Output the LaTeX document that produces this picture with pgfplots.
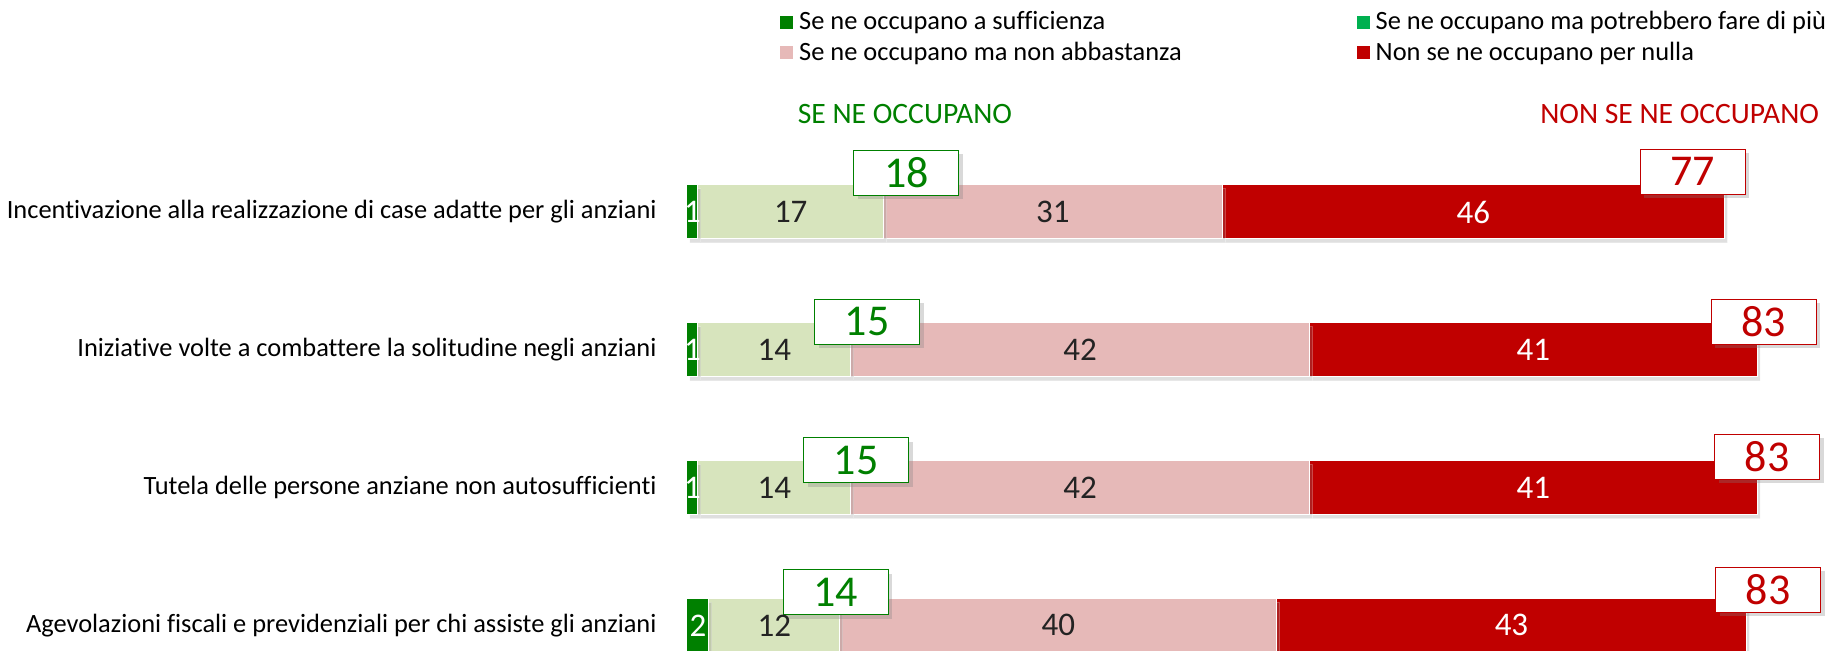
\documentclass[border=0pt]{standalone}
\usepackage{pgfplots}
\pgfplotsset{compat=1.18}
\usepackage{pgfplotstable}
\usepackage{fontspec}
\setmainfont{Carlito}[Ligatures=CommonOff]
\usetikzlibrary{shadows}
\definecolor{dgreen}{RGB}{0,128,0}
\definecolor{mgreen}{RGB}{0,176,80}
\definecolor{lgreen}{RGB}{215,228,189}
\definecolor{lpink}{RGB}{230,185,184}
\definecolor{dred}{RGB}{192,0,0}
\definecolor{txt}{RGB}{35,35,35}

% segment values (y = bar position)
\pgfplotstableread{
y v
0 1
-1 1
-2 1
-3 2
}\tA
\pgfplotstableread{
y v
0 17
-1 14
-2 14
-3 12
}\tB
\pgfplotstableread{
y v
0 31
-1 42
-2 42
-3 40
}\tC
\pgfplotstableread{
y v
0 46
-1 41
-2 41
-3 43
}\tD
% label positions (segment midpoints) and texts
\pgfplotstableread{
y m lab
0 0.5 1
-1 0.5 1
-2 0.5 1
-3 1 2
}\lA
\pgfplotstableread{
y m lab
0 9.5 17
-1 8 14
-2 8 14
-3 8 12
}\lB
\pgfplotstableread{
y m lab
0 33.5 31
-1 36 42
-2 36 42
-3 34 40
}\lC
\pgfplotstableread{
y m lab
0 72 46
-1 77.5 41
-2 77.5 41
-3 75.5 43
}\lD

\tikzset{
  tot/.style={draw=#1, fill=white, text=#1, line width=0.5pt,
    minimum width=52.5pt, minimum height=22.5pt, inner sep=0pt,
    font=\fontsize{22}{24}\selectfont,
    drop shadow={shadow xshift=2pt, shadow yshift=-2pt, opacity=0.3}},
  barshadow/.style={drop shadow={shadow xshift=1.5pt, shadow yshift=-2pt, opacity=0.25}}
}
\pgfplotsset{
  common/.style={x=5.46pt, y=68.9pt, xmin=0, xmax=100, ymin=-3.5, ymax=0.5, clip=false},
  seglab/.style={only marks, mark=none, point meta=explicit symbolic,
    nodes near coords={\pgfplotspointmeta},
    nodes near coords align={anchor=center},
    every node near coord/.append style={text=#1, font=\fontsize{16.5}{18}\selectfont}}
}

\begin{document}
\begin{tikzpicture}
\begin{axis}[
  common,
  xbar stacked, bar width=27pt,
  axis line style={draw=none}, major tick length=0pt,
  xtick=\empty,
  ytick={0,-1,-2,-3},
  yticklabels={Incentivazione alla realizzazione di case adatte per gli anziani,
    Iniziative volte a combattere la solitudine negli anziani,
    Tutela delle persone anziane non autosufficienti,
    Agevolazioni fiscali e previdenziali per chi assiste gli anziani},
  yticklabel style={font=\fontsize{13.2}{15}\selectfont, inner sep=0pt, xshift=-15pt, text=black},
  legend columns=2,
  legend cell align=left,
  legend style={draw=none, fill=none, at={(0.0852,1.247)}, anchor=north west,
    font=\fontsize{13.2}{15}\selectfont, inner sep=0pt, row sep=0.5pt,
    /tikz/every odd column/.append style={column sep=1pt},
    /tikz/every even column/.append style={column sep=85.5pt}},
]
\addlegendimage{legend image code/.code={\fill[dgreen] (0pt,-3pt) rectangle (6pt,3pt);}}
\addlegendentry{Se ne occupano a sufficienza}
\addlegendimage{legend image code/.code={\fill[mgreen] (0pt,-3pt) rectangle (6pt,3pt);}}
\addlegendentry{Se ne occupano ma potrebbero fare di più}
\addlegendimage{legend image code/.code={\fill[lpink] (0pt,-3pt) rectangle (6pt,3pt);}}
\addlegendentry{Se ne occupano ma non abbastanza}
\addlegendimage{legend image code/.code={\fill[dred] (0pt,-3pt) rectangle (6pt,3pt);}}
\addlegendentry{Non se ne occupano per nulla}

\addplot[fill=dgreen, draw=white, line width=0.5pt, barshadow] table[x=v, y=y]{\tA};
\addplot[fill=lgreen, draw=white, line width=0.5pt, barshadow] table[x=v, y=y]{\tB};
\addplot[fill=lpink, draw=white, line width=0.5pt, barshadow] table[x=v, y=y]{\tC};
\addplot[fill=dred, draw=white, line width=0.5pt, barshadow] table[x=v, y=y]{\tD};

\node[anchor=west, inner sep=0pt, text=dgreen, font=\fontsize{14.8}{16}\selectfont] at (axis cs:10.12,0.708) {SE NE OCCUPANO};
\node[anchor=east, inner sep=0pt, text=dred, font=\fontsize{14.8}{16}\selectfont] at (axis cs:103.69,0.708) {NON SE NE OCCUPANO};

\coordinate (BL) at (axis cs:-62.91,-3.1785);
\coordinate (TR) at (axis cs:104.76,1.5385);
\end{axis}
\begin{axis}[common, hide axis]
\addplot[seglab=white] table[x=m, y=y, meta=lab]{\lA};
\addplot[seglab=txt] table[x=m, y=y, meta=lab]{\lB};
\addplot[seglab=txt] table[x=m, y=y, meta=lab]{\lC};
\addplot[seglab=white] table[x=m, y=y, meta=lab]{\lD};

\node[tot=dgreen] at (axis cs:20.1,0.285) {18};
\node[tot=dgreen] at (axis cs:16.5,-0.798) {15};
\node[tot=dgreen] at (axis cs:15.5,-1.80) {15};
\node[tot=dgreen] at (axis cs:13.6,-2.758) {14};
\node[tot=dred] at (axis cs:92.1,0.292) {77};
\node[tot=dred] at (axis cs:98.6,-0.797) {83};
\node[tot=dred] at (axis cs:98.9,-1.776) {83};
\node[tot=dred] at (axis cs:99.0,-2.742) {83};
\end{axis}
\pgfresetboundingbox
\path[use as bounding box] (BL) rectangle (TR);
\end{tikzpicture}
\end{document}
